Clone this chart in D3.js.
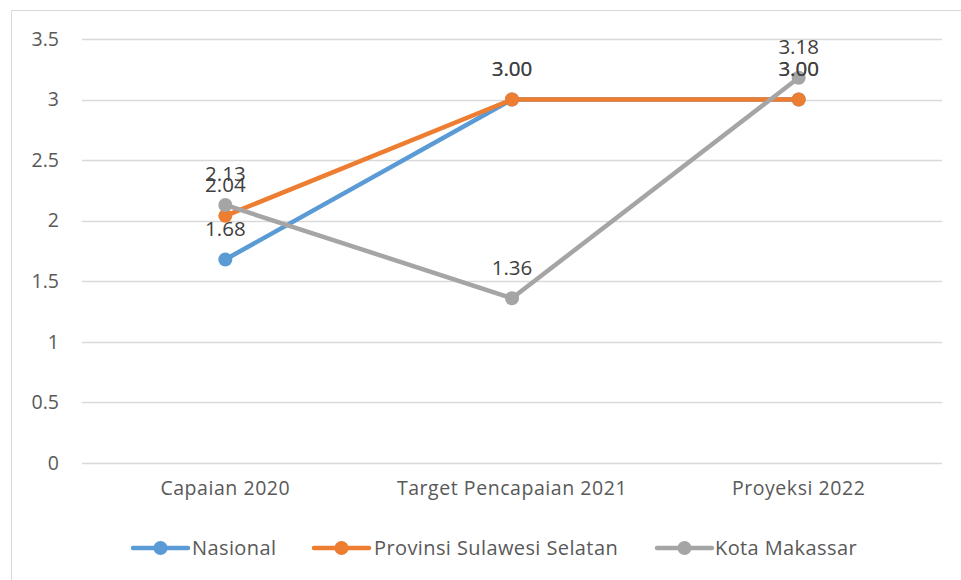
<!DOCTYPE html>
<html>
<head>
<meta charset="utf-8">
<script src="https://cdn.jsdelivr.net/npm/d3@7"></script>
<style>
  html, body { margin: 0; padding: 0; background: #fff; }
  svg { display: block; }
  text { font-family: "Open Sans", "Noto Sans", sans-serif; }
</style>
</head>
<body>
<svg id="chart" width="961" height="580"></svg>
<script>
// Categories and series values
const categories = ["Capaian 2020", "Target Pencapaian 2021", "Proyeksi 2022"];
const nasional = [1.68, 3.00, 3.00];
const provinsi = [2.04, 3.00, 3.00];
const makassar = [2.13, 1.36, 3.18];
const seriesNames = ["Nasional", "Provinsi Sulawesi Selatan", "Kota Makassar"];
const seriesColors = ["#5B9BD5", "#ED7D31", "#A5A5A5"];
const yTicks = [0, 0.5, 1, 1.5, 2, 2.5, 3, 3.5];

const series = [nasional, provinsi, makassar].map((vals, i) => ({
  name: seriesNames[i], color: seriesColors[i], values: vals
}));

const svg = d3.select("#chart");
const W = 961, H = 580;

// Outer chart frame
svg.append("rect")
  .attr("x", 11.5).attr("y", 10.5)
  .attr("width", W + 20).attr("height", H + 20)
  .attr("fill", "#fff").attr("stroke", "#d9d9d9").attr("stroke-width", 1);

const plot = { left: 82, right: 942, top: 39, bottom: 463 };

const x = d3.scaleBand().domain(categories).range([plot.left, plot.right]);
const y = d3.scaleLinear().domain([0, 3.5]).range([plot.bottom, plot.top]);
const cx = c => x(c) + x.bandwidth() / 2;

// Horizontal gridlines
svg.append("g").selectAll("line").data(yTicks).join("line")
  .attr("x1", plot.left).attr("x2", plot.right)
  .attr("y1", d => Math.round(y(d)) + 0.5).attr("y2", d => Math.round(y(d)) + 0.5)
  .attr("stroke", "#d9d9d9").attr("stroke-width", 1.5);

// Y axis labels
const yAxis = d3.axisLeft(y).tickValues(yTicks).tickSize(0).tickPadding(0)
  .tickFormat(d => String(d));
const yg = svg.append("g").attr("transform", `translate(${plot.left - 23},0)`).call(yAxis);
yg.select(".domain").remove();
yg.selectAll("text").attr("fill", "#595959").style("font-size", "19.5px")
  .style("font-family", "'Open Sans', sans-serif");

// X axis labels
const xAxis = d3.axisBottom(x).tickSize(0).tickPadding(0);
const xg = svg.append("g").attr("transform", `translate(0,${plot.bottom + 18})`).call(xAxis);
xg.select(".domain").remove();
xg.selectAll("text").attr("fill", "#595959").style("font-size", "19.5px")
  .style("letter-spacing", "0.55px")
  .style("font-family", "'Open Sans', sans-serif");

// Lines and markers
const line = d3.line().x((d, i) => cx(categories[i])).y(d => y(d));
series.forEach(s => {
  const g = svg.append("g");
  g.append("path").datum(s.values)
    .attr("d", line).attr("fill", "none")
    .attr("stroke", s.color).attr("stroke-width", 4.5)
    .attr("stroke-linejoin", "round").attr("stroke-linecap", "round");
  g.selectAll("circle").data(s.values).join("circle")
    .attr("cx", (d, i) => cx(categories[i])).attr("cy", d => y(d))
    .attr("r", 7).attr("fill", s.color);
});

// Data labels above each point
series.forEach(s => {
  svg.append("g").selectAll("text").data(s.values).join("text")
    .attr("x", (d, i) => cx(categories[i]))
    .attr("y", d => y(d) - 31)
    .attr("dy", "0.36em")
    .attr("text-anchor", "middle")
    .attr("fill", "#404040")
    .style("font-size", "20.5px")
    .text(d => d.toFixed(2));
});

// Legend
const legendItems = [
  { x: 133, tx: 192 },
  { x: 314, tx: 374 },
  { x: 657, tx: 715 }
];
const ly = 548;
series.forEach((s, i) => {
  const g = svg.append("g");
  const li = legendItems[i];
  g.append("line").attr("x1", li.x).attr("x2", li.x + 55)
    .attr("y1", ly).attr("y2", ly)
    .attr("stroke", s.color).attr("stroke-width", 4.5).attr("stroke-linecap", "round");
  g.append("circle").attr("cx", li.x + 27.5).attr("cy", ly).attr("r", 7).attr("fill", s.color);
  g.append("text").attr("x", li.tx).attr("y", ly).attr("dy", "0.35em")
    .attr("fill", "#595959").style("font-size", "20px")
    .style("letter-spacing", "0.4px").text(s.name);
});
</script>
</body>
</html>
